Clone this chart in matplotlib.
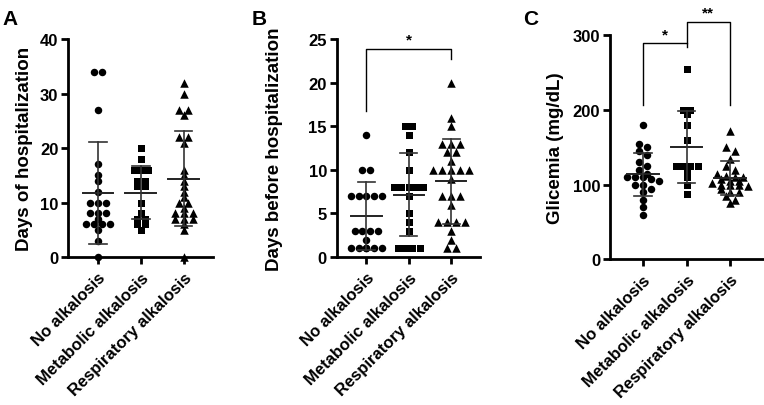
import numpy as np
import matplotlib.pyplot as plt

plt.rcParams['font.family'] = ['Liberation Sans', 'DejaVu Sans']
plt.rcParams['font.weight'] = 'bold'

groups = ['No alkalosis', 'Metabolic alkalosis', 'Respiratory alkalosis']
markers = ['o', 's', '^']
marker_px = [7.5, 7.0, 8.5]

# A - days of hospitalization
hosp_no = [34, 34, 27, 17, 15, 14, 12, 10, 10, 10, 8, 8, 8, 7, 6, 6, 6, 6, 5, 3, 0]
hosp_met = [20, 18, 16, 16, 16, 14, 14, 13, 13, 10, 8, 7, 7, 6, 6, 5]
hosp_resp = [32, 30, 27, 27, 26, 22, 22, 21, 16, 15, 14, 13, 12, 11, 10, 10,
             9, 8, 8, 8, 7, 7, 7, 6, 5, 0]

# B - days before hospitalization
before_no = [14, 10, 10, 7, 7, 7, 7, 7, 3, 3, 3, 3, 2, 1, 1, 1, 1, 1, 1]
before_met = [15, 15, 14, 12, 10, 8, 8, 8, 8, 8, 7, 5, 4, 3, 1, 1, 1, 1]
before_resp = [20, 16, 15, 13, 13, 13, 12, 12, 11, 10, 10, 10, 10, 10, 9,
               7, 7, 7, 6, 4, 4, 4, 4, 3, 2, 1, 1]

# C - glicemia
gly_no = [180, 155, 150, 145, 140, 130, 125, 120, 115, 110, 110, 110, 108,
          105, 100, 100, 95, 90, 80, 70, 60]
gly_met = [255, 200, 200, 195, 180, 160, 125, 125, 125, 125, 120, 110, 100, 88]
gly_resp = [172, 150, 145, 135, 125, 120, 115, 112, 110, 110, 108, 105, 105,
            102, 100, 100, 100, 98, 95, 90, 90, 85, 80, 75]


def scatter_x(ax, values, x, size):
    # prism-like layout: points close in height share a row, centred on x
    vals = np.asarray(values, dtype=float)
    py = ax.transData.transform(np.column_stack([np.zeros(len(vals)), vals]))[:, 1]
    unit = ax.transData.transform((1, 0))[0] - ax.transData.transform((0, 0))[0]
    order = np.argsort(-vals, kind='stable')
    rows, cur = [], [order[0]]
    for i in order[1:]:
        if py[cur[0]] - py[i] < size * 0.5 and len(cur) < 5:
            cur.append(i)
        else:
            rows.append(cur)
            cur = [i]
    rows.append(cur)
    xs = np.zeros(len(vals))
    for r in rows:
        n = len(r)
        for j, i in enumerate(r):
            xs[i] = x + (j - (n - 1) / 2) * size * 1.05 / unit
    return xs


def panel(ax, data, ylim, yticks, ylabel, label_x):
    ax.set_ylim(*ylim)
    for i, vals in enumerate(data):
        xs = scatter_x(ax, vals, i, marker_px[i])
        ax.scatter(xs, vals, marker=markers[i], s=(marker_px[i] * 0.72) ** 2,
                   color='black', linewidths=0, zorder=3, clip_on=False)
        m = np.mean(vals)
        sd = np.std(vals, ddof=1)
        ax.plot([i - 0.36, i + 0.36], [m, m], color='#222222', lw=1.4, zorder=4)
        ax.plot([i, i], [m - sd, m + sd], color='#333333', lw=1.2, zorder=4)
        for e in (m - sd, m + sd):
            ax.plot([i - 0.2, i + 0.2], [e, e], color='#333333', lw=1.2, zorder=4)
    for s in ['top', 'right']:
        ax.spines[s].set_visible(False)
    for s in ['left', 'bottom']:
        ax.spines[s].set_linewidth(2.0)
    ax.set_xticks(range(3))
    ax.set_xticklabels(groups, rotation=45, ha='right', rotation_mode='anchor',
                       fontsize=12, fontweight='bold')
    ax.set_yticks(yticks)
    ax.set_yticklabels([str(t) for t in yticks], fontsize=12, fontweight='bold')
    ax.tick_params(axis='both', length=5, width=2.0, pad=2)
    ax.tick_params(axis='x', pad=4)
    ax.set_ylabel(ylabel, fontsize=13.5, fontweight='bold')
    ax.yaxis.set_label_coords(label_x, 0.5)


def bracket(ax, x0, x1, y, l0, l1, text, ty):
    ax.plot([x0, x0, x1, x1], [l0, y, y, l1], color='black', lw=1.0,
            clip_on=False, zorder=2)
    ax.text((x0 + x1) / 2, ty, text, ha='center', va='center', fontsize=11,
            fontweight='bold', clip_on=False)


fig = plt.figure(figsize=(7.64, 4.06), dpi=100)
axA = fig.add_axes([0.0890, 0.3645, 0.1898, 0.5369])
axB = fig.add_axes([0.4407, 0.3645, 0.1876, 0.5369])
axC = fig.add_axes([0.7984, 0.3584, 0.2016, 0.5517])
axA.set_xlim(-0.7, 2.68)
axB.set_xlim(-0.7, 2.68)
axC.set_xlim(-0.76, 2.78)

panel(axA, [hosp_no, hosp_met, hosp_resp], (0, 40), [0, 10, 20, 30, 40],
      'Days of hospitalization', -0.24)
panel(axB, [before_no, before_met, before_resp], (0, 25), [0, 5, 10, 15, 20, 25],
      'Days before hospitalization', -0.375)
panel(axC, [gly_no, gly_met, gly_resp], (0, 300), [0, 100, 200, 300],
      'Glicemia (mg/dL)', -0.30)

bracket(axB, 0, 2, 23.9, 16.8, 22.7, '*', 24.9)
bracket(axC, 0, 1, 290, 207, 285, '*', 302)
bracket(axC, 1, 2, 318, 290, 207, '**', 331)

fig.text(0.003, 0.975, 'A', fontsize=15, fontweight='bold', va='top')
fig.text(0.330, 0.975, 'B', fontsize=15, fontweight='bold', va='top')
fig.text(0.685, 0.975, 'C', fontsize=15, fontweight='bold', va='top')

fig.savefig('out.png', dpi=100)
